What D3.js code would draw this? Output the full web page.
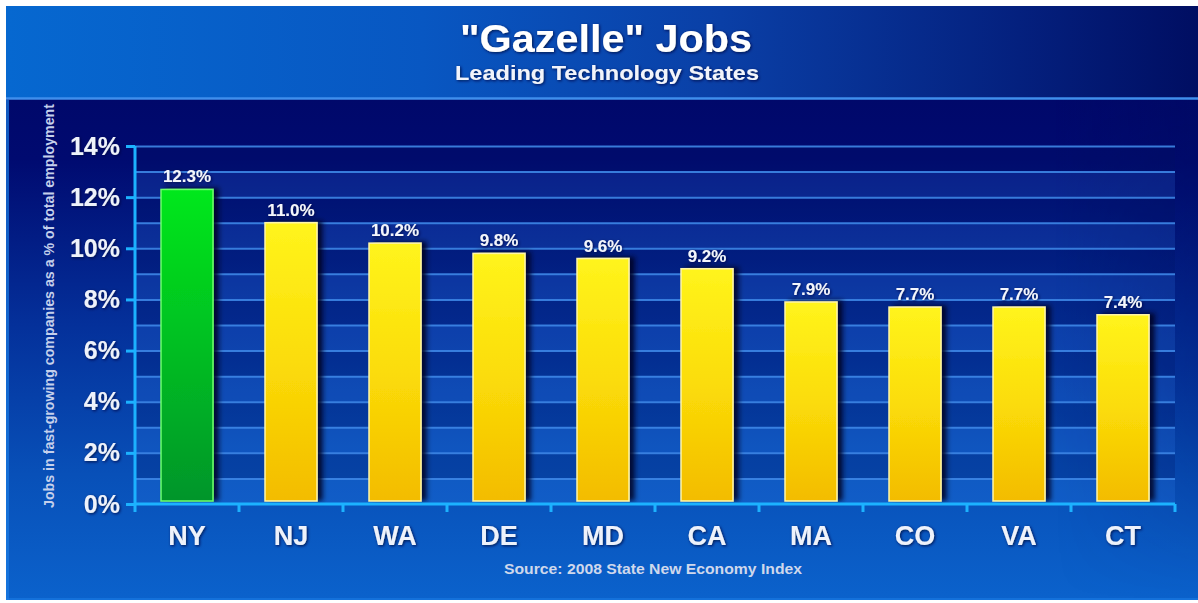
<!DOCTYPE html>
<html>
<head>
<meta charset="utf-8">
<script src="https://cdn.jsdelivr.net/npm/d3@7/dist/d3.min.js"></script>
<style>
  html, body { margin: 0; padding: 0; background: #ffffff; }
  svg { display: block; }
  text { font-family: "Liberation Sans", Arial, Helvetica, sans-serif; font-weight: bold; }
</style>
</head>
<body>
<svg id="chart" width="1198" height="603"></svg>
<script>
// Share of jobs in fast-growing ("gazelle") companies, leading technology states
const states = ["NY", "NJ", "WA", "DE", "MD", "CA", "MA", "CO", "VA", "CT"];
const gazelleShare = [12.3, 11.0, 10.2, 9.8, 9.6, 9.2, 7.9, 7.7, 7.7, 7.4];
const highlighted = ["NY"];
const yTicks = [0, 2, 4, 6, 8, 10, 12, 14];
const gridSteps = [0, 1, 2, 3, 4, 5, 6, 7, 8, 9, 10, 11, 12, 13, 14];

const titleText = "\"Gazelle\" Jobs";
const subtitleText = "Leading Technology States";
const yAxisTitle = "Jobs in fast-growing companies as a % of total employment";
const sourceText = "Source: 2008 State New Economy Index";

const frame = { x: 6, y: 6, right: 1198, bottom: 600 };
const headerBottom = 98;
const plot = { left: 135, right: 1175, top: 146, bottom: 504 };

const svg = d3.select("#chart");
const defs = svg.append("defs");

function linGrad(id, x2, y2, stops) {
  const g = defs.append("linearGradient").attr("id", id)
    .attr("x1", 0).attr("y1", 0).attr("x2", x2).attr("y2", y2);
  stops.forEach(([o, c, op]) => g.append("stop").attr("offset", o)
    .attr("stop-color", c).attr("stop-opacity", op == null ? 1 : op));
}

linGrad("headerGrad", 1, 0, [[0, "#0668d0"], [0.35, "#0857c2"], [0.6, "#0a3fa6"], [0.85, "#04207e"], [1, "#000e62"]]);
linGrad("panelGrad", 0, 1, [[0, "#00086a"], [0.12, "#000a70"], [0.45, "#04309a"], [0.75, "#0850b8"], [1, "#0b62cc"]]);
linGrad("panelShade", 1, 0, [[0, "#000a60", 0], [0.88, "#000a60", 0], [1, "#000a60", 0.45]]);
linGrad("fadeDown", 0, 1, [[0, "#ffffff"], [0.55, "#ffffff", 0.6], [1, "#ffffff", 0]]);
linGrad("yellowBar", 0, 1, [[0, "#fff41c"], [0.5, "#fbdc08"], [1, "#f3bc00"]]);
linGrad("greenBar", 0, 1, [[0, "#00e81a"], [0.5, "#00bf22"], [1, "#00952a"]]);

// Right-edge darkening that fades out toward the bottom of the panel
const shadeMask = defs.append("mask").attr("id", "shadeMask")
  .attr("maskUnits", "userSpaceOnUse")
  .attr("x", 0).attr("y", 0).attr("width", 1198).attr("height", 603);
shadeMask.append("rect").attr("x", frame.x).attr("y", headerBottom)
  .attr("width", frame.right - frame.x).attr("height", frame.bottom - headerBottom)
  .attr("fill", "url(#fadeDown)");

const shadow = defs.append("filter").attr("id", "barShadow")
  .attr("x", "-20%").attr("y", "-10%").attr("width", "160%").attr("height", "130%");
shadow.append("feDropShadow").attr("dx", 5).attr("dy", -1).attr("stdDeviation", 2.5)
  .attr("flood-color", "#000620").attr("flood-opacity", 0.85);

const glow = defs.append("filter").attr("id", "textGlow")
  .attr("x", "-10%").attr("y", "-30%").attr("width", "120%").attr("height", "160%");
glow.append("feDropShadow").attr("dx", 1).attr("dy", 1).attr("stdDeviation", 1.6)
  .attr("flood-color", "#001040").attr("flood-opacity", 0.9);

// Background: header band and lower panel
svg.append("rect").attr("x", frame.x).attr("y", frame.y)
  .attr("width", frame.right - frame.x).attr("height", headerBottom - frame.y)
  .attr("fill", "url(#headerGrad)");
svg.append("rect").attr("x", frame.x).attr("y", headerBottom)
  .attr("width", frame.right - frame.x).attr("height", frame.bottom - headerBottom)
  .attr("fill", "url(#panelGrad)");
svg.append("rect").attr("x", frame.x).attr("y", headerBottom)
  .attr("width", frame.right - frame.x).attr("height", frame.bottom - headerBottom)
  .attr("fill", "url(#panelShade)").attr("mask", "url(#shadeMask)");
svg.append("line").attr("x1", frame.x).attr("x2", frame.right)
  .attr("y1", headerBottom + 0.5).attr("y2", headerBottom + 0.5)
  .attr("stroke", "#3f8eec").attr("stroke-width", 2.5);
svg.append("line").attr("x1", frame.x + 1.5).attr("x2", frame.x + 1.5)
  .attr("y1", headerBottom + 2).attr("y2", frame.bottom)
  .attr("stroke", "#1a7ce4").attr("stroke-width", 3).attr("stroke-opacity", 0.7);
svg.append("line").attr("x1", frame.x).attr("x2", frame.right)
  .attr("y1", frame.bottom - 1).attr("y2", frame.bottom - 1)
  .attr("stroke", "#1a7ce4").attr("stroke-width", 2).attr("stroke-opacity", 0.6);

// Titles
svg.append("text").attr("x", 606).attr("y", 52).attr("text-anchor", "middle")
  .attr("font-size", 38).attr("textLength", 292).attr("lengthAdjust", "spacingAndGlyphs")
  .attr("fill", "#ffffff").attr("filter", "url(#textGlow)")
  .text(titleText);
svg.append("text").attr("x", 607).attr("y", 80).attr("text-anchor", "middle")
  .attr("font-size", 21).attr("textLength", 304).attr("lengthAdjust", "spacingAndGlyphs")
  .attr("fill", "#f2f4fb").attr("filter", "url(#textGlow)")
  .text(subtitleText);

// Scales
const x = d3.scaleBand().domain(states).range([plot.left, plot.right])
  .paddingInner(0.5).paddingOuter(0.25);
const y = d3.scaleLinear().domain([0, 14]).range([plot.bottom, plot.top]);

// Alternating bands between the 1% gridlines
const bands = gridSteps.slice(0, -1);
svg.append("g").selectAll("rect").data(bands).join("rect")
  .attr("x", plot.left).attr("width", plot.right - plot.left)
  .attr("y", d => y(d + 1)).attr("height", d => y(d) - y(d + 1))
  .attr("fill", d => d % 2 === 0 ? "#3c8cff" : "#001060")
  .attr("fill-opacity", d => d % 2 === 0 ? 0.16 : 0.22);

// Gridlines every 1%
const grid = svg.append("g").attr("transform", `translate(${plot.left},0)`)
  .call(d3.axisLeft(y).tickValues(gridSteps.slice(1)).tickSize(-(plot.right - plot.left)).tickFormat(""));
grid.select(".domain").remove();
grid.selectAll(".tick line").attr("stroke", "#3d86e6").attr("stroke-width", 2).attr("stroke-opacity", 0.9);

// Bars
svg.append("g").selectAll("rect").data(states).join("rect")
  .attr("x", d => x(d)).attr("width", x.bandwidth())
  .attr("y", (d, i) => y(gazelleShare[i]))
  .attr("height", (d, i) => y(0) - 3 - y(gazelleShare[i]))
  .attr("fill", d => highlighted.includes(d) ? "url(#greenBar)" : "url(#yellowBar)")
  .attr("stroke", d => highlighted.includes(d) ? "#6cff6c" : "#fff6a8")
  .attr("stroke-width", 1.5)
  .attr("filter", "url(#barShadow)");

// Value labels
svg.append("g").selectAll("text").data(states).join("text")
  .attr("x", d => x(d) + x.bandwidth() / 2)
  .attr("y", (d, i) => y(gazelleShare[i]) - 7)
  .attr("text-anchor", "middle").attr("font-size", 17).attr("fill", "#f4f6fc")
  .attr("filter", "url(#textGlow)")
  .text((d, i) => gazelleShare[i].toFixed(1) + "%");

// Y axis
const yAxis = svg.append("g").attr("transform", `translate(${plot.left},0)`)
  .call(d3.axisLeft(y).tickValues(yTicks).tickSize(9).tickPadding(6).tickFormat(d => d + "%"));
yAxis.select(".domain").attr("stroke", "#1cb2ff").attr("stroke-width", 3)
  .attr("d", `M0,${y(14)}V${y(0)}`);
yAxis.selectAll(".tick line").attr("stroke", "#1cb2ff").attr("stroke-width", 3);
yAxis.selectAll(".tick text").attr("font-size", 25).attr("fill", "#eef2fb")
  .attr("font-family", "'Liberation Sans', Arial, sans-serif").attr("font-weight", "bold")
  .attr("filter", "url(#textGlow)");

// X axis: category labels, with tick marks on the band boundaries
const xAxis = svg.append("g").attr("transform", `translate(0,${plot.bottom})`)
  .call(d3.axisBottom(x).tickSize(0).tickPadding(41));
xAxis.select(".domain").attr("stroke", "#1cb2ff").attr("stroke-width", 3)
  .attr("d", `M${plot.left},0H${plot.right}`);
xAxis.selectAll(".tick text").attr("font-size", 27).attr("fill", "#eef2fb")
  .attr("font-family", "'Liberation Sans', Arial, sans-serif").attr("font-weight", "bold")
  .attr("dy", 0).attr("filter", "url(#textGlow)");
const half = (x.step() - x.bandwidth()) / 2;
const bounds = states.map(d => x(d) - half).concat([x(states[states.length - 1]) + x.bandwidth() + half]);
xAxis.selectAll("line.boundary").data(bounds).join("line").attr("class", "boundary")
  .attr("x1", d => d).attr("x2", d => d).attr("y1", 0).attr("y2", 8)
  .attr("stroke", "#1cb2ff").attr("stroke-width", 3);

// Axis title and source
svg.append("text").attr("transform", "translate(54,306) rotate(-90)")
  .attr("text-anchor", "middle").attr("font-size", 14)
  .attr("textLength", 404).attr("lengthAdjust", "spacingAndGlyphs")
  .attr("fill", "#c4d0ec")
  .text(yAxisTitle);
svg.append("text").attr("x", 653).attr("y", 574).attr("text-anchor", "middle")
  .attr("font-size", 14).attr("textLength", 298).attr("lengthAdjust", "spacingAndGlyphs")
  .attr("fill", "#cfd8ec")
  .text(sourceText);
</script>
</body>
</html>
